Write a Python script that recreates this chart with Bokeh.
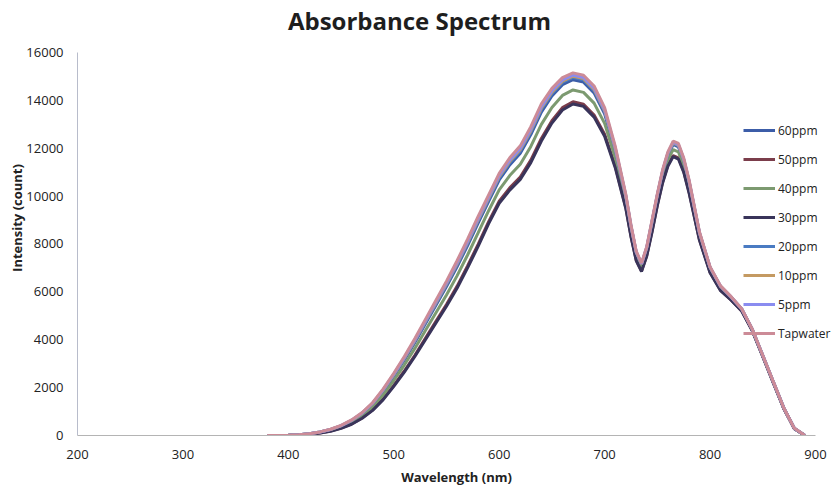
from bokeh.plotting import figure
from bokeh.models import Range1d, FixedTicker, Legend, LegendItem, Label
from bokeh.embed import file_html
from bokeh.resources import INLINE

# ---- data ----
wavelength = [380, 390, 400, 410, 420, 430, 440, 450, 460, 470, 480, 490, 500, 510, 520, 530,
              540, 550, 560, 570, 580, 590, 600, 610, 620, 630, 640, 650, 660, 670, 680, 690,
              700, 710, 720, 725, 730, 735, 740, 745, 750, 755, 760, 765, 770, 775, 780, 790,
              800, 810, 820, 830, 840, 850, 860, 870, 880, 890]

ppm60 = [0, 4, 13, 32, 70, 139, 242, 394, 610, 907, 1307, 1851, 2479, 3157, 3885, 4663,
         5441, 6219, 7047, 7936, 8875, 9786, 10675, 11303, 11792, 12570, 13509, 14181, 14653, 14864, 14764, 14314,
         13436, 11902, 9968, 8690, 7612, 7123, 7812, 8890, 9990, 10979, 11718, 12157, 12057, 11468, 10579, 8423,
         6995, 6206, 5767, 5278, 4435, 3339, 2239, 1143, 296, 0]
ppm50 = [0, 0, 6, 21, 52, 104, 186, 308, 483, 737, 1073, 1532, 2089, 2696, 3353, 4060,
         4767, 5474, 6231, 7084, 7988, 8934, 9788, 10345, 10798, 11505, 12409, 13152, 13695, 13941, 13841, 13391,
         12584, 11263, 9542, 8335, 7328, 6875, 7528, 8535, 9635, 10589, 11292, 11696, 11596, 11042, 10189, 8175,
         6818, 6064, 5661, 5207, 4385, 3304, 2204, 1122, 281, 0]
ppm40 = [0, 2, 10, 27, 61, 123, 216, 354, 551, 828, 1199, 1703, 2298, 2943, 3638, 4383,
         5128, 5873, 6668, 7540, 8463, 9390, 10263, 10858, 11330, 12075, 12998, 13703, 14208, 14435, 14335, 13885,
         13040, 11605, 9770, 8525, 7480, 7008, 7680, 8725, 9825, 10798, 11520, 11943, 11843, 11270, 10398, 8308,
         6913, 6140, 5718, 5245, 4412, 3323, 2223, 1134, 289, 0]
ppm30 = [0, 0, 5, 20, 50, 100, 180, 300, 470, 720, 1050, 1500, 2050, 2650, 3300, 4000,
         4700, 5400, 6150, 7000, 7900, 8850, 9700, 10250, 10700, 11400, 12300, 13050, 13600, 13850, 13750, 13300,
         12500, 11200, 9500, 8300, 7300, 6850, 7500, 8500, 9600, 10550, 11250, 11650, 11550, 11000, 10150, 8150,
         6800, 6050, 5650, 5200, 4380, 3300, 2200, 1120, 280, 0]
ppm20 = [0, 4, 14, 33, 71, 143, 248, 402, 623, 924, 1331, 1883, 2518, 3203, 3938, 4723,
         5508, 6293, 7128, 8020, 8963, 9870, 10763, 11398, 11890, 12675, 13618, 14283, 14748, 14955, 14855, 14405,
         13520, 11965, 10010, 8725, 7640, 7148, 7840, 8925, 10025, 11018, 11760, 12203, 12103, 11510, 10618, 8448,
         7013, 6220, 5778, 5285, 4440, 3343, 2243, 1146, 297, 0]
ppm10 = [0, 4, 14, 33, 72, 145, 251, 407, 630, 934, 1344, 1901, 2540, 3229, 3968, 4757,
         5546, 6335, 7174, 8068, 9013, 9918, 10813, 11452, 11946, 12735, 13680, 14341, 14802, 15007, 14907, 14457,
         13568, 12001, 10034, 8745, 7656, 7162, 7856, 8945, 10045, 11040, 11784, 12229, 12129, 11534, 10640, 8462,
         7023, 6228, 5784, 5289, 4442, 3345, 2245, 1147, 298, 0]
ppm5 = [0, 5, 14, 34, 73, 147, 254, 412, 637, 943, 1357, 1919, 2562, 3255, 3998, 4791,
        5584, 6377, 7220, 8116, 9063, 9966, 10863, 11506, 12002, 12795, 13742, 14399, 14856, 15059, 14959, 14509,
        13616, 12037, 10058, 8765, 7672, 7176, 7872, 8965, 10065, 11062, 11808, 12255, 12155, 11558, 10662, 8476,
        7033, 6236, 5790, 5293, 4445, 3347, 2247, 1148, 299, 0]
tapwater = [0, 5, 15, 35, 75, 150, 260, 420, 650, 960, 1380, 1950, 2600, 3300, 4050, 4850,
            5650, 6450, 7300, 8200, 9150, 10050, 10950, 11600, 12100, 12900, 13850, 14500, 14950, 15150, 15050, 14600,
            13700, 12100, 10100, 8800, 7700, 7200, 7900, 9000, 10100, 11100, 11850, 12300, 12200, 11600, 10700, 8500,
            7050, 6250, 5800, 5300, 4450, 3350, 2250, 1150, 300, 0]

series_names = ["60ppm", "50ppm", "40ppm", "30ppm", "20ppm", "10ppm", "5ppm", "Tapwater"]
series_values = [ppm60, ppm50, ppm40, ppm30, ppm20, ppm10, ppm5, tapwater]
series_colors = ["#3c5da8", "#7b3d4b", "#7c9a70", "#39345a", "#4a7bc2", "#c49a62", "#8a8cf0", "#cc8b97"]

x_ticks = [200, 300, 400, 500, 600, 700, 800, 900]
y_ticks = [0, 2000, 4000, 6000, 8000, 10000, 12000, 14000, 16000]

FONT = "Open Sans"

# Frame covers x 77..835 px and y 0..435 px; the data area (200-900 nm, 0-16000) sits inside,
# the extra room above/right holds the title and the legend text.
p = figure(width=835, height=491, output_backend="svg", toolbar_location=None,
           x_range=Range1d(200, 919), y_range=Range1d(0, 18172),
           min_border_left=77, min_border_right=0, min_border_top=0, min_border_bottom=56)
p.outline_line_color = None
p.xgrid.grid_line_color = None
p.ygrid.grid_line_color = None
p.background_fill_color = "white"
p.border_fill_color = "white"

for ax in (p.xaxis[0], p.yaxis[0]):
    ax.major_tick_line_color = None
    ax.minor_tick_line_color = None
    ax.major_tick_in = 0
    ax.major_tick_out = 0
    ax.major_label_text_font = FONT
    ax.major_label_text_font_size = "13px"
    ax.major_label_text_color = "#222222"
    ax.axis_label_text_font = FONT
    ax.axis_label_text_font_size = "13px"
    ax.axis_label_text_font_style = "bold"
    ax.axis_label_text_color = "#222222"
p.xaxis[0].ticker = FixedTicker(ticks=x_ticks)
p.yaxis[0].ticker = FixedTicker(ticks=y_ticks)
p.xaxis[0].bounds = (200, 900)
p.yaxis[0].bounds = (0, 16000)
p.xaxis[0].axis_line_color = "#b4b4b4"
p.yaxis[0].axis_line_color = "#b8bccb"
p.xaxis[0].major_label_standoff = 14
p.yaxis[0].major_label_standoff = 14
p.xaxis[0].axis_label = "Wavelength (nm)"
p.yaxis[0].axis_label = "Intensity (count)"
p.xaxis[0].axis_label_standoff = 6
p.yaxis[0].axis_label_standoff = -3

items = []
for name, vals, col in zip(series_names, series_values, series_colors):
    r = p.line(wavelength, vals, line_color=col, line_width=3)
    items.append(LegendItem(label=name, renderers=[r]))

legend = Legend(items=items, location=(666, 92), padding=0, margin=0, spacing=9,
                glyph_width=32, glyph_height=20, label_height=20, label_standoff=3,
                label_text_font=FONT, label_text_font_size="12px", label_text_color="#222222",
                border_line_color=None, background_fill_alpha=0)
p.add_layout(legend, "center")

p.add_layout(Label(x=342, y=415, x_units="screen", y_units="screen", text="Absorbance Spectrum",
                   text_font=FONT, text_font_size="24px", text_font_style="bold",
                   text_align="center", text_baseline="middle", text_color="#1e1e1e"))

open("out.html", "w").write(file_html(p, INLINE))
